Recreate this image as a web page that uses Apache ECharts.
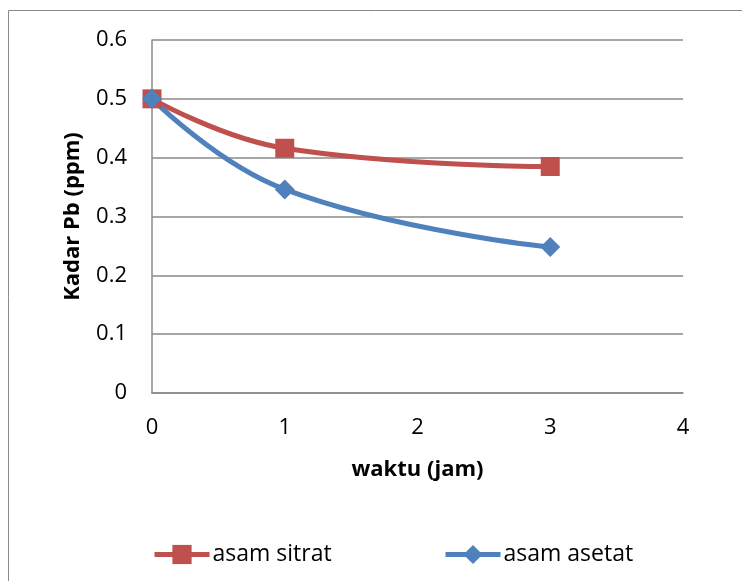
<!DOCTYPE html>
<html><head><meta charset="utf-8">
<script src="https://cdn.jsdelivr.net/npm/echarts@6/dist/echarts.min.js"></script>
<style>html,body{margin:0;padding:0;background:#fff}#c{width:742px;height:581px}</style>
</head><body><div id="c"></div>
<script>
const waktu = [0, 1, 3];
const asamSitrat = [0.5, 0.416, 0.385];
const asamAsetat = [0.5, 0.346, 0.248];
const xTicks = [0, 1, 2, 3, 4];
const yTicks = [0, 0.1, 0.2, 0.3, 0.4, 0.5, 0.6];

const font = '"Open Sans", "Noto Sans", sans-serif';
const chart = echarts.init(document.getElementById('c'), null, {renderer: 'canvas'});
const pairs = (xs, ys) => xs.map((x, i) => [x, ys[i]]);
chart.setOption({
  animation: false,
  graphic: [{type: 'rect', shape: {x: 8.5, y: 10.5, width: 740, height: 600}, style: {fill: 'none', stroke: '#8a8a8a', lineWidth: 1}}],
  grid: {left: 152, right: 59, top: 40, bottom: 188, containLabel: false},
  xAxis: {
    type: 'value', min: 0, max: 4, interval: 1,
    name: 'waktu (jam)', nameLocation: 'middle', nameGap: 66,
    nameTextStyle: {fontFamily: font, fontSize: 22, fontWeight: 'bold', color: '#000'},
    axisLine: {show: true, lineStyle: {color: '#8a8a8a', width: 1.5}},
    axisTick: {show: false},
    splitLine: {show: false},
    axisLabel: {fontFamily: font, fontSize: 22, color: '#000', margin: 24, formatter: v => xTicks.includes(v) ? String(v) : ''}
  },
  yAxis: {
    type: 'value', min: 0, max: 0.6, interval: 0.1,
    name: 'Kadar Pb (ppm)', nameLocation: 'middle', nameGap: 68,
    nameTextStyle: {fontFamily: font, fontSize: 22, fontWeight: 'bold', color: '#000'},
    axisLine: {show: true, lineStyle: {color: '#8a8a8a', width: 1.5}},
    axisTick: {show: false},
    splitLine: {show: true, lineStyle: {color: '#8a8a8a', width: 1.5}},
    axisLabel: {fontFamily: font, fontSize: 22, color: '#000', margin: 25,
      formatter: v => { const t = yTicks.find(y => Math.abs(y - v) < 1e-9); return t === undefined ? '' : (t === 0 ? '0' : t.toFixed(1)); }}
  },
  legend: [
    {data: ['asam sitrat'], left: 152, top: 543, padding: 0, itemWidth: 55, itemHeight: 24, itemGap: 2,
     lineStyle: {width: 5}, textStyle: {fontFamily: font, fontSize: 23, color: '#000', padding: [0, 0, 0, -2]}},
    {data: ['asam asetat'], left: 443, top: 543, padding: 0, itemWidth: 55, itemHeight: 24, itemGap: 2,
     lineStyle: {width: 5}, textStyle: {fontFamily: font, fontSize: 23, color: '#000', padding: [0, 0, 0, -2]}}
  ],
  series: [
    {name: 'asam sitrat', type: 'line', data: pairs(waktu, asamSitrat), smooth: 0.45,
     symbol: 'rect', symbolSize: 19, itemStyle: {color: '#C0504D'},
     lineStyle: {color: '#C0504D', width: 5}},
    {name: 'asam asetat', type: 'line', data: pairs(waktu, asamAsetat), smooth: 0.45,
     symbol: 'diamond', symbolSize: 20, itemStyle: {color: '#4F81BD'},
     lineStyle: {color: '#4F81BD', width: 5}}
  ]
});
</script></body></html>
